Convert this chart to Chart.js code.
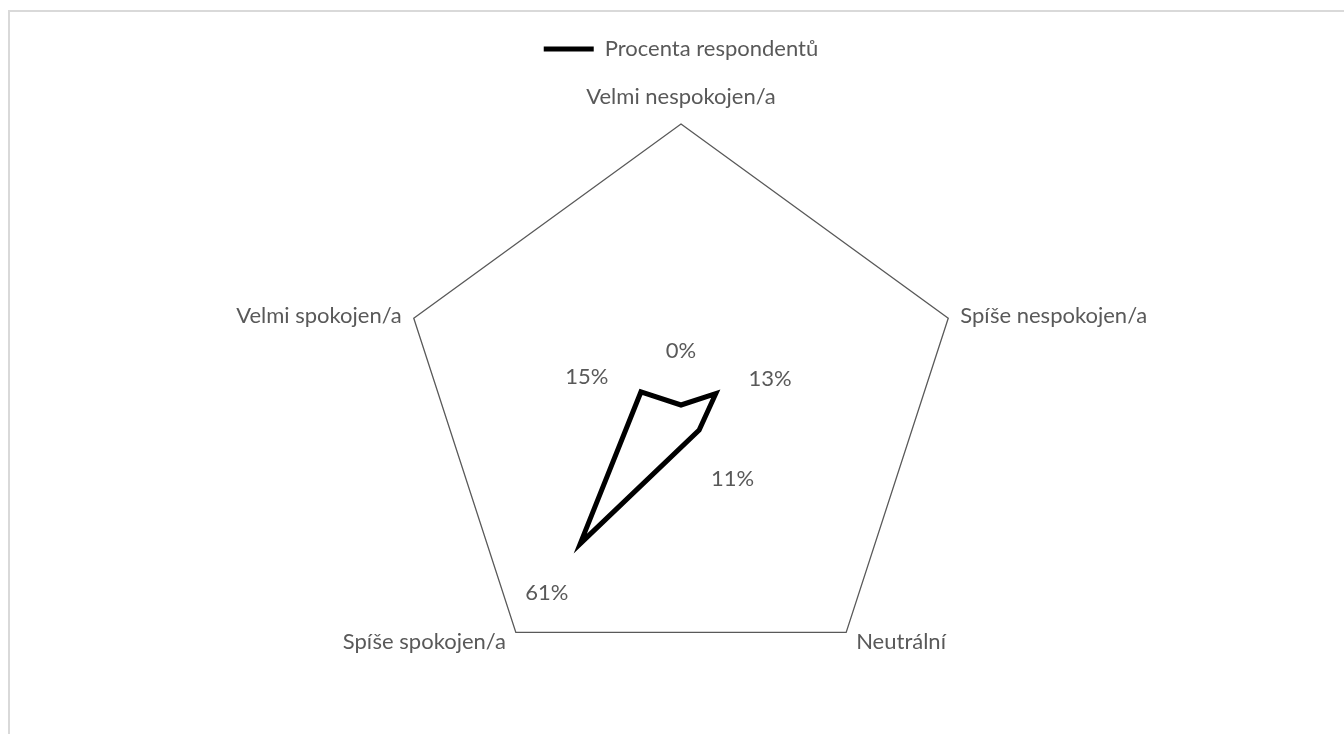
<!DOCTYPE html>
<html>
<head>
<meta charset="utf-8">
<script src="https://cdn.jsdelivr.net/npm/chart.js@4"></script>
<style>
  html, body { margin: 0; padding: 0; background: #fff; overflow: hidden; }
  #frame { position: absolute; left: 8px; top: 10px; width: 1400px; height: 800px;
           border-top: 2px solid #d9d9d9; border-left: 2px solid #d9d9d9; }
  #satisfaction { position: absolute; left: 0; top: 0; }
</style>
</head>
<body>
<div id="frame"></div>
<canvas id="satisfaction" width="1344" height="760"></canvas>
<script>
const categories = ['Velmi nespokojen/a', 'Spíše nespokojen/a', 'Neutrální', 'Spíše spokojen/a', 'Velmi spokojen/a'];
const shares = [0, 13, 11, 61, 15];
const seriesName = 'Procenta respondentů';
const axisMax = 100;

const textGrey = '#595959';
const fontFamily = 'Lato, "Open Sans", sans-serif';
const fontSize = 22;

// category names round the pentagon and the value next to each point
const radarText = {
    id: 'radarText',
    afterDatasetsDraw(chart) {
        const scale = chart.scales.r;
        const ctx = chart.ctx;
        const outer = scale.getDistanceFromCenterForValue(axisMax);
        ctx.save();
        ctx.fillStyle = textGrey;
        ctx.font = fontSize + 'px ' + fontFamily;
        ctx.textBaseline = 'middle';
        categories.forEach((name, i) => {
            const p = scale.getPointPosition(i, outer);
            const dx = p.x - scale.xCenter;
            let x = p.x, y = p.y;
            if (Math.abs(dx) < 1) {
                ctx.textAlign = 'center';
                y -= 27;
            } else {
                const below = p.y > scale.yCenter;
                ctx.textAlign = dx > 0 ? 'left' : 'right';
                x += (dx > 0 ? 1 : -1) * (below ? 10 : 12);
                y += below ? 10 : -2;
            }
            ctx.fillText(name, x, y);
        });
        ctx.textAlign = 'center';
        shares.forEach((v, i) => {
            const p = scale.getPointPosition(i, scale.getDistanceFromCenterForValue(v) + 57);
            ctx.fillText(v + '%', p.x, p.y + 3);
        });
        ctx.restore();
    }
};

new Chart(document.getElementById('satisfaction'), {
    type: 'radar',
    data: {
        labels: categories,
        datasets: [{
            label: seriesName,
            data: shares,
            borderColor: '#000000',
            backgroundColor: 'transparent',
            borderWidth: 5,
            borderCapStyle: 'round',
            fill: false,
            pointRadius: 0,
            tension: 0
        }]
    },
    options: {
        responsive: false,
        animation: false,
        layout: {
            padding: { left: 400, right: 382, top: 28, bottom: 19 }
        },
        plugins: {
            legend: {
                position: 'top',
                labels: {
                    usePointStyle: true,
                    pointStyle: 'line',
                    pointStyleWidth: 50,
                    color: textGrey,
                    font: { size: fontSize, family: fontFamily },
                    padding: 10
                }
            },
            tooltip: { enabled: false }
        },
        scales: {
            r: {
                min: 0,
                max: axisMax,
                ticks: { display: false, stepSize: 100 },
                grid: { color: '#595959', lineWidth: 1.3 },
                angleLines: { display: false },
                pointLabels: { display: false }
            }
        }
    },
    plugins: [radarText]
});
</script>
</body>
</html>
